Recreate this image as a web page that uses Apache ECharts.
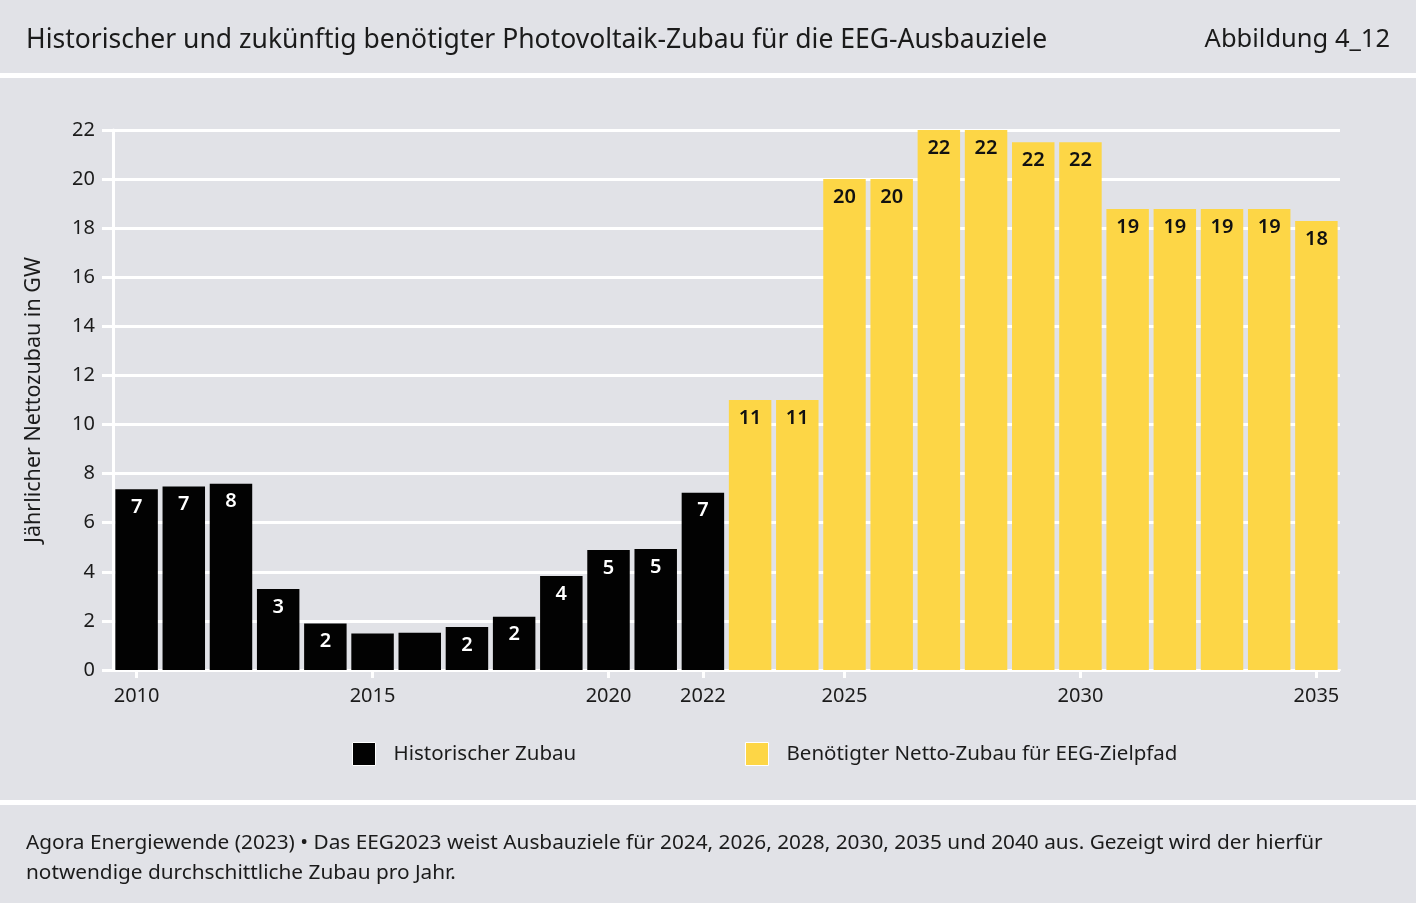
<!DOCTYPE html>
<html>
<head>
<meta charset="utf-8">
<script src="https://cdn.jsdelivr.net/npm/echarts@6/dist/echarts.min.js"></script>
<style>
html,body{margin:0;padding:0;background:#e1e2e7;}
#chart{width:1416px;height:903px;}
</style>
</head>
<body>
<div id="chart"></div>
<script>
const years = ['2010','2011','2012','2013','2014','2015','2016','2017','2018','2019','2020','2021','2022',
  '2023','2024','2025','2026','2027','2028','2029','2030','2031','2032','2033','2034','2035'];
const historical = [7.36,7.48,7.59,3.30,1.89,1.49,1.52,1.75,2.17,3.83,4.89,4.93,7.22,
  '-','-','-','-','-','-','-','-','-','-','-','-','-'];
const required = ['-','-','-','-','-','-','-','-','-','-','-','-','-',
  11.0,11.0,20.0,20.0,22.0,22.0,21.5,21.5,18.78,18.78,18.78,18.78,18.29];
const shownYears = ['2010','2015','2020','2022','2025','2030','2035'];
const seriesNames = ['Historischer Zubau','Benötigter Netto-Zubau für EEG-Zielpfad'];
const titleText = 'Historischer und zukünftig benötigter Photovoltaik-Zubau für die EEG-Ausbauziele';
const figureText = 'Abbildung 4_12';
const yAxisName = 'Jährlicher Nettozubau in GW';
const footerText = 'Agora Energiewende (2023) • Das EEG2023 weist Ausbauziele für 2024, 2026, 2028, 2030, 2035 und 2040 aus. Gezeigt wird der hierfür\nnotwendige durchschittliche Zubau pro Jahr.';

const FONT = '"Noto Sans", sans-serif';
const TXT = '#1b1b1b';
const YELLOW = '#fdd646';
const showFn = (i, v) => shownYears.includes(v);

const chart = echarts.init(document.getElementById('chart'));
chart.setOption({
  backgroundColor: '#e1e2e7',
  textStyle: {fontFamily: FONT},
  animation: false,
  title: [
    {text: titleText, left: 26, top: 27, padding: 0, textStyle: {fontFamily: FONT, fontSize: 26.5, fontWeight: 'normal', color: TXT}},
    {text: figureText, right: 26, top: 27, padding: 0, textStyle: {fontFamily: FONT, fontSize: 25.5, fontWeight: 'normal', color: TXT}},
    {text: footerText, left: 26, top: 828, padding: 0, textStyle: {fontFamily: FONT, fontSize: 20.8, fontWeight: 'normal', color: TXT, lineHeight: 30}}
  ],
  graphic: [
    {type: 'rect', left: 0, top: 73, shape: {width: 1416, height: 5}, style: {fill: '#ffffff'}, silent: true},
    {type: 'rect', left: 0, top: 800, shape: {width: 1416, height: 5}, style: {fill: '#ffffff'}, silent: true}
  ],
  legend: [
    {data: [seriesNames[0]], left: 352, top: 742, padding: 0, itemWidth: 23, itemHeight: 23, icon: 'rect',
      itemStyle: {borderColor: '#ffffff', borderWidth: 1},
      textStyle: {fontFamily: FONT, fontSize: 20.5, color: TXT, padding: [0,0,0,13]}},
    {data: [seriesNames[1]], left: 745, top: 742, padding: 0, itemWidth: 23, itemHeight: 23, icon: 'rect',
      itemStyle: {borderColor: '#ffffff', borderWidth: 1},
      textStyle: {fontFamily: FONT, fontSize: 20.5, color: TXT, padding: [0,0,0,13]}}
  ],
  grid: {left: 113, right: 76, top: 130, bottom: 233, containLabel: false},
  xAxis: {
    type: 'category', data: years,
    axisLine: {show: true, lineStyle: {color: '#ffffff', width: 2}},
    axisTick: {show: true, alignWithLabel: true, interval: showFn, length: 8, lineStyle: {color: '#ffffff', width: 3}},
    axisLabel: {interval: showFn, margin: 16, fontFamily: FONT, fontSize: 20, color: TXT},
    splitLine: {show: false}
  },
  yAxis: {
    type: 'value', min: 0, max: 22, interval: 2,
    name: yAxisName, nameLocation: 'middle', nameGap: 68,
    nameTextStyle: {fontFamily: FONT, fontSize: 21.5, color: TXT},
    axisLine: {show: true, lineStyle: {color: '#ffffff', width: 3}},
    axisTick: {show: true, length: 11, lineStyle: {color: '#ffffff', width: 3}},
    axisLabel: {margin: 18, fontFamily: FONT, fontSize: 20, color: TXT},
    splitLine: {show: true, lineStyle: {color: '#ffffff', width: 3}}
  },
  series: [
    {name: seriesNames[0], type: 'bar', stack: 'total', data: historical, barCategoryGap: '10%',
      itemStyle: {color: '#020202'},
      label: {show: true, position: 'insideTop', distance: 8, color: '#ffffff', fontFamily: FONT, fontSize: 20, fontWeight: 600,
        formatter: p => (p.value < 1.6 ? '' : String(Math.round(p.value)))}},
    {name: seriesNames[1], type: 'bar', stack: 'total', data: required, barCategoryGap: '10%',
      itemStyle: {color: YELLOW},
      label: {show: true, position: 'insideTop', distance: 8, color: '#111111', fontFamily: FONT, fontSize: 20, fontWeight: 600,
        formatter: p => String(Math.round(p.value))}}
  ]
});
</script>
</body>
</html>
